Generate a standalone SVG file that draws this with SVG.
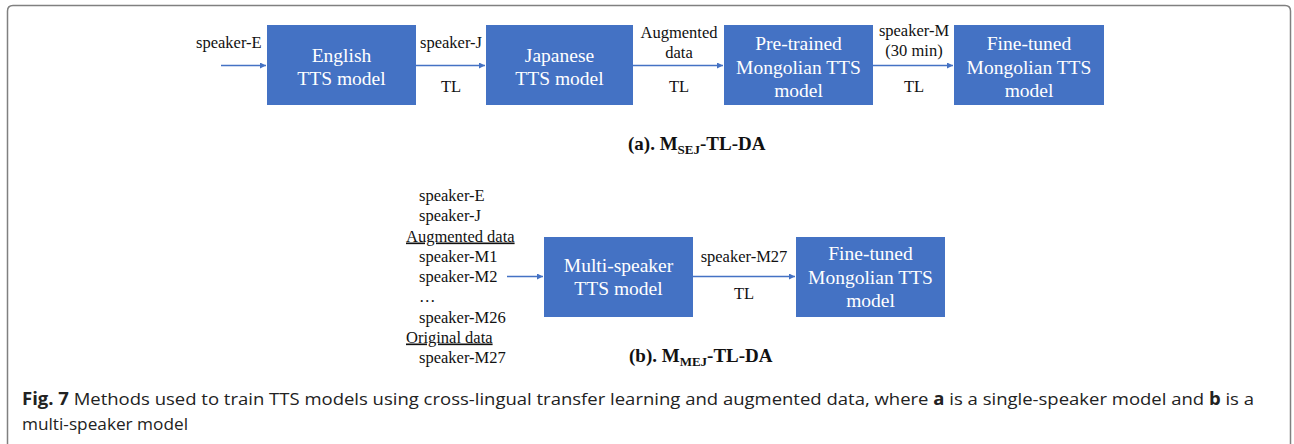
<svg xmlns="http://www.w3.org/2000/svg" width="1294" height="444" viewBox="0 0 1294 444">
  <style>
    .box { fill: #4472C4; }
    .btxt { font-family: "Liberation Serif", serif; font-size: 19.5px; fill: #ffffff; text-anchor: middle; }
    .lbl { font-family: "Liberation Serif", serif; font-size: 16.5px; fill: #111111; }
    .mid { text-anchor: middle; }
    .ttl { font-family: "Liberation Serif", serif; font-size: 19px; font-weight: bold; fill: #111111; }
    .sub { font-size: 13px; }
    .edge { stroke: #4472C4; stroke-width: 1.5; fill: none; marker-end: url(#arrow); }
    .cap { font-family: "Open Sans", "Liberation Sans", sans-serif; font-size: 17px; fill: #222222; }
    .b { font-weight: bold; }
  </style>
  <defs>
    <marker id="arrow" viewBox="0 0 10 10" refX="10" refY="5" markerWidth="6" markerHeight="6" markerUnits="userSpaceOnUse" orient="auto">
      <path d="M0,0 L10,5 L0,10 z" fill="#4472C4"/>
    </marker>
  </defs>

  <rect width="1294" height="444" fill="#ffffff"/>
  <!-- figure frame, open at the bottom -->
  <path d="M7.5,444 L7.5,11 Q7.5,5.5 13,5.5 L1285,5.5 Q1290.5,5.5 1290.5,11 L1290.5,444" fill="none" stroke="#808080" stroke-width="1.5"/>

  <!-- (a) single-speaker pipeline -->
  <g id="english">
    <rect class="box" x="267" y="25" width="149" height="80"/>
    <text class="btxt" x="341.5" y="62">English</text>
    <text class="btxt" x="341.5" y="85">TTS model</text>
  </g>
  <g id="japanese">
    <rect class="box" x="486" y="25" width="147" height="80"/>
    <text class="btxt" x="559.5" y="62">Japanese</text>
    <text class="btxt" x="559.5" y="85">TTS model</text>
  </g>
  <g id="pretrained">
    <rect class="box" x="724" y="25" width="149" height="80"/>
    <text class="btxt" x="798.5" y="50">Pre-trained</text>
    <text class="btxt" x="798.5" y="73.5">Mongolian TTS</text>
    <text class="btxt" x="798.5" y="97">model</text>
  </g>
  <g id="finetuned-a">
    <rect class="box" x="954" y="25" width="150" height="80"/>
    <text class="btxt" x="1029" y="50">Fine-tuned</text>
    <text class="btxt" x="1029" y="73.5">Mongolian TTS</text>
    <text class="btxt" x="1029" y="97">model</text>
  </g>

  <!-- (b) multi-speaker pipeline -->
  <g id="multispeaker">
    <rect class="box" x="544" y="237" width="149" height="80"/>
    <text class="btxt" x="618.5" y="272">Multi-speaker</text>
    <text class="btxt" x="618.5" y="295">TTS model</text>
  </g>
  <g id="finetuned-b">
    <rect class="box" x="796" y="237" width="149" height="80"/>
    <text class="btxt" x="870.5" y="260">Fine-tuned</text>
    <text class="btxt" x="870.5" y="284">Mongolian TTS</text>
    <text class="btxt" x="870.5" y="307">model</text>
  </g>

  <g id="connectors">
    <line class="edge" x1="221" y1="65.5" x2="266" y2="65.5"/>
    <line class="edge" x1="416" y1="65.5" x2="485" y2="65.5"/>
    <line class="edge" x1="633" y1="65.5" x2="723" y2="65.5"/>
    <line class="edge" x1="873" y1="65.5" x2="953" y2="65.5"/>
    <line class="edge" x1="507" y1="276.5" x2="543" y2="276.5"/>
    <line class="edge" x1="693" y1="276.5" x2="795" y2="276.5"/>
  </g>

  <g id="edge-labels">
    <text class="lbl" x="196" y="47.5">speaker-E</text>
    <text class="lbl mid" x="451" y="47.5">speaker-J</text>
    <text class="lbl mid" x="451" y="92">TL</text>
    <text class="lbl mid" x="679" y="37.5">Augmented</text>
    <text class="lbl mid" x="679" y="57.5">data</text>
    <text class="lbl mid" x="679" y="92">TL</text>
    <text class="lbl mid" x="914" y="35.5">speaker-M</text>
    <text class="lbl mid" x="914" y="56">(30 min)</text>
    <text class="lbl mid" x="914" y="92">TL</text>
    <text class="lbl mid" x="744" y="262">speaker-M27</text>
    <text class="lbl mid" x="744" y="299">TL</text>
  </g>

  <g id="speaker-list">
    <text class="lbl" x="419" y="200.5">speaker-E</text>
    <text class="lbl" x="419" y="221">speaker-J</text>
    <text class="lbl" x="406" y="241.5" text-decoration="underline">Augmented data</text>
    <text class="lbl" x="419" y="261.5">speaker-M1</text>
    <text class="lbl" x="419" y="282">speaker-M2</text>
    <text class="lbl" x="419" y="302">…</text>
    <text class="lbl" x="419" y="322.5">speaker-M26</text>
    <text class="lbl" x="406" y="342.5" text-decoration="underline">Original data</text>
    <text class="lbl" x="419" y="363">speaker-M27</text>
  </g>

  <g id="titles">
    <text class="ttl" x="628" y="150">(a). M<tspan class="sub" dy="4">SEJ</tspan><tspan dy="-4">-TL-DA</tspan></text>
    <text class="ttl" x="629" y="362">(b). M<tspan class="sub" dy="4">MEJ</tspan><tspan dy="-4">-TL-DA</tspan></text>
  </g>

  <g id="caption">
    <text class="cap" x="22" y="405" textLength="1232" lengthAdjust="spacingAndGlyphs"><tspan class="b">Fig. 7</tspan> Methods used to train TTS models using cross-lingual transfer learning and augmented data, where <tspan class="b">a</tspan> is a single-speaker model and <tspan class="b">b</tspan> is a</text>
    <text class="cap" x="22" y="430" textLength="166" lengthAdjust="spacingAndGlyphs">multi-speaker model</text>
  </g>
</svg>
